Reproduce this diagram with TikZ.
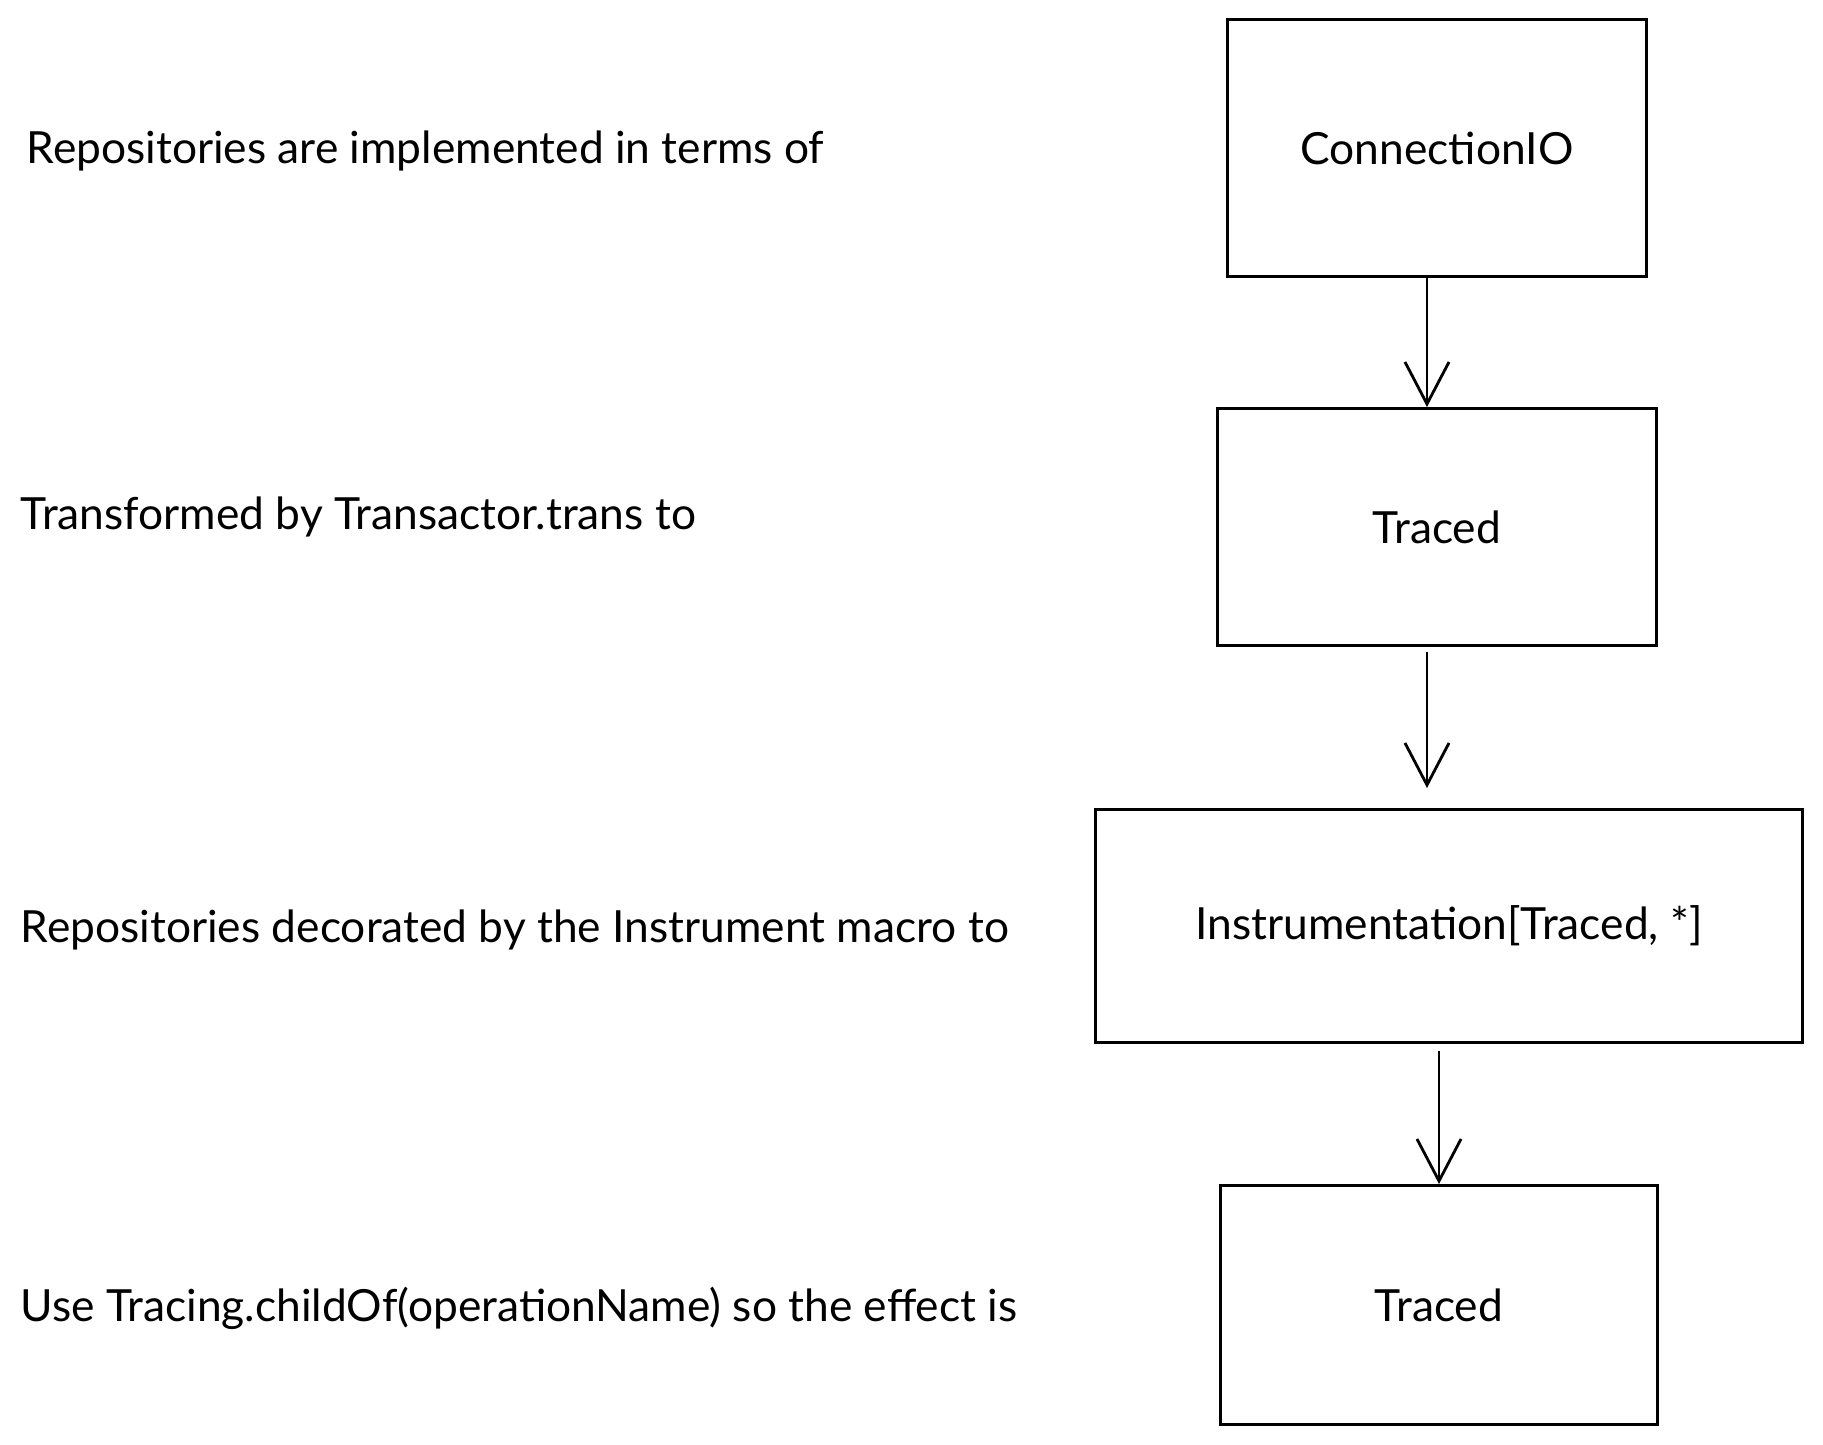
\documentclass[tikz,border=0pt]{standalone}
\usepackage{fontspec}
\setmainfont{Lato}
\usetikzlibrary{arrows.meta,positioning}

\begin{document}
\begin{tikzpicture}[x=0.01cm,y=-0.01cm]
\tikzset{
  stage/.style={draw,thick,minimum width=#1,inner sep=0pt,font=\fontsize{12.6}{15}\selectfont},
  caption/.style={anchor=west,inner sep=0pt,font=\fontsize{12.6}{15}\selectfont},
  flow/.style={-{Straight Barb[length=4.2mm,width=4.4mm]},thick}
}
\useasboundingbox (0,0) rectangle (1823,1445);
\node[stage=4.18cm,minimum height=2.57cm] (n_conn) at (1437,148) {ConnectionIO};
\node[stage=4.38cm,minimum height=2.37cm] (n_traced) at (1437,527) {Traced};
\node[stage=7.06cm,minimum height=2.33cm] (n_instr) at (1449,926) {Instrumentation[Traced, *]};
\node[stage=4.36cm,minimum height=2.39cm] (n_child) at (1439,1305) {Traced};
\node[caption] (t_repo) at (26,151) {Repositories are implemented in terms of};
\node[caption] (t_trans) at (20,517) {Transformed by Transactor.trans to};
\node[caption] (t_macro) at (20,930) {Repositories decorated by the Instrument macro to};
\node[caption] (t_use) at (20,1308) {Use Tracing.childOf(operationName) so the effect is};
\coordinate (c_in) at (n_traced.south |- n_instr.north);
\coordinate (c_out) at (n_instr.south -| n_child.north);
\draw[flow] ([xshift=-0.1cm]n_conn.south) -- ([xshift=-0.1cm]n_traced.north);
\draw[flow] ([xshift=-0.1cm,yshift=-0.05cm]n_traced.south) -- ([xshift=-0.1cm,yshift=0.2cm]c_in);
\draw[flow] ([yshift=-0.07cm]c_out) -- (n_child.north);
\end{tikzpicture}
\end{document}
